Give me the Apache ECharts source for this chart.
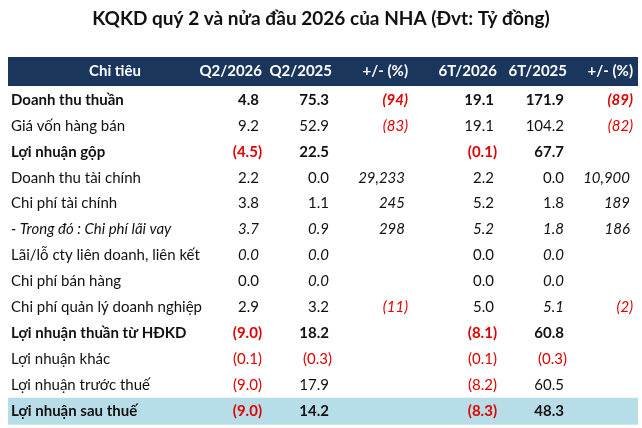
<!DOCTYPE html>
<html><head><meta charset="utf-8">
<script src="https://cdn.jsdelivr.net/npm/echarts@6/dist/echarts.min.js"></script>
<style>html,body{margin:0;padding:0;background:#fff}#c{width:642px;height:428px}</style>
</head><body><div id="c"></div>
<script>
const title = 'KQKD quý 2 và nửa đầu 2026 của NHA (Đvt: Tỷ đồng)';
const headers = ['Chỉ tiêu','Q2/2026','Q2/2025','+/- (%)','6T/2026','6T/2025','+/- (%)'];
const labels = ['Doanh thu thuần','Giá vốn hàng bán','Lợi nhuận gộp','Doanh thu tài chính','Chi phí tài chính','- Trong đó : Chi phí lãi vay','Lãi/lỗ cty liên doanh, liên kết','Chi phí bán hàng','Chi phí quản lý doanh nghiệp','Lợi nhuận thuần từ HĐKD','Lợi nhuận khác','Lợi nhuận trước thuế','Lợi nhuận sau thuế'];
const q2026 = ['4.8','9.2','(4.5)','2.2','3.8','3.7','0.0','0.0','2.9','(9.0)','(0.1)','(9.0)','(9.0)'];
const q2025 = ['75.3','52.9','22.5','0.0','1.1','0.9','0.0','0.0','3.2','18.2','(0.3)','17.9','14.2'];
const qChg = ['(94)','(83)','','29,233','245','298','','','(11)','','','',''];
const h2026 = ['19.1','19.1','(0.1)','2.2','5.2','5.2','0.0','0.0','5.0','(8.1)','(0.1)','(8.2)','(8.3)'];
const h2025 = ['171.9','104.2','67.7','0.0','1.8','1.8','0.0','0.0','5.1','60.8','(0.3)','60.5','48.3'];
const hChg = ['(89)','(82)','','10,900','189','186','','','(2)','','','',''];
const boldRows = [1,0,1,0,0,0,0,0,0,1,0,0,1];
// italic mask per row: label,q2026,q2025,qChg,h2026,h2025,hChg
const italicMask = ['0001001','0001001','0001001','0001001','0001001','1111111','0110011','0010010','0001011','0001001','0001001','0001001','0001001'];

const colRight = [null,262,332,408,497,567,633];
const F = 'Lato';
const els = [];
els.push({type:'text',left:'center',top:9,style:{text:title,fontFamily:F,fontWeight:'bold',fontSize:19,fill:'#111'}});
els.push({type:'rect',shape:{x:8,y:57,width:630,height:29},style:{fill:'#1B365C'}});
const hx=[115,262,332,408,497,567,633];
headers.forEach((h,i)=>{
  els.push({type:'text',x:hx[i],y:71,style:{text:h,fontFamily:F,fontWeight:'bold',fontSize:15,fill:'#fff',align:i==0?'center':'right',verticalAlign:'middle'}});
});
const data=[q2026,q2025,qChg,h2026,h2025,hChg];
const y0=100, dy=25.9;
labels.forEach((lab,r)=>{
  const y=y0+r*dy;
  if(r===labels.length-1) els.push({type:'rect',shape:{x:8,y:y-13,width:630,height:27},style:{fill:'#B7DEE8'}});
  const w=boldRows[r]?'bold':'normal';
  const it=m=>italicMask[r][m]==='1'?'italic':'normal';
  els.push({type:'text',x:11,y:y,style:{text:lab,fontFamily:F,fontWeight:w,fontStyle:it(0),fontSize:15,fill:'#111',verticalAlign:'middle'}});
  data.forEach((col,c)=>{
    const v=col[r]; if(!v) return;
    const neg=v.startsWith('(');
    const x=colRight[c+1]-(neg?0:3);
    els.push({type:'text',x:x,y:y,style:{text:v,fontFamily:F,fontWeight:w,fontStyle:it(c+1),fontSize:15,fill:neg?'#E00000':'#111',align:'right',verticalAlign:'middle'}});
  });
});
const chart=echarts.init(document.getElementById('c'));
chart.setOption({graphic:{elements:els}});
</script></body></html>
